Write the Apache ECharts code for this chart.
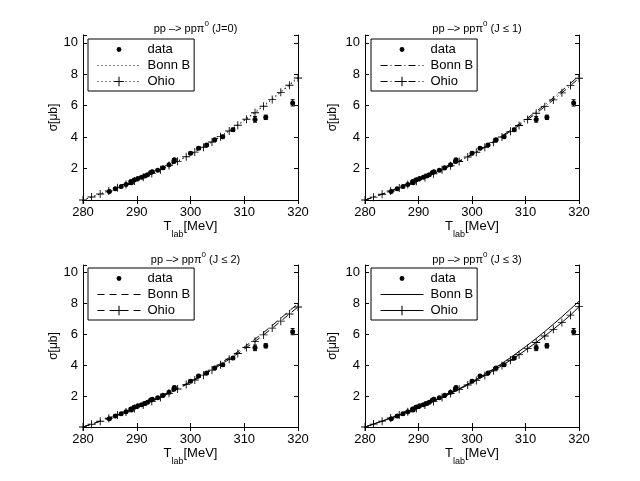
<!DOCTYPE html>
<html>
<head>
<meta charset="utf-8">
<script src="https://cdn.jsdelivr.net/npm/echarts@6/dist/echarts.min.js"></script>
<style>
  html, body { margin: 0; padding: 0; background: #fff; }
  #main { width: 640px; height: 481px; }
</style>
</head>
<body>
<div id="main"></div>
<script>
// measured cross sections (T_lab in MeV, sigma in mub, error)
const T_DATA   = [284.9, 286.0, 287.1, 288.0, 288.9, 289.0, 289.5, 290.2, 290.9, 291.5, 292.0, 292.6, 292.9, 293.9, 294.9, 296.0, 296.9, 297.0, 300.0, 301.5, 303.0, 304.5, 306.0, 307.9, 312.0, 314.0, 319.0];
const SIG_DATA = [0.54, 0.71, 0.86, 0.99, 1.17, 1.10, 1.28, 1.37, 1.45, 1.52, 1.60, 1.75, 1.80, 1.90, 2.05, 2.25, 2.45, 2.56, 2.97, 3.30, 3.50, 3.83, 4.03, 4.47, 5.13, 5.26, 6.18];
const ERR_DATA = [0.03, 0.03, 0.03, 0.03, 0.04, 0.04, 0.04, 0.04, 0.04, 0.04, 0.05, 0.05, 0.05, 0.05, 0.05, 0.06, 0.08, 0.08, 0.08, 0.08, 0.08, 0.09, 0.09, 0.10, 0.18, 0.14, 0.20];

// model curves
const T_CALC  = [280, 281.6, 283.2, 284.8, 286.4, 288, 289.6, 291.2, 292.8, 294.4, 296, 297.6, 299.2, 300.8, 302.4, 304, 305.6, 307.2, 308.8, 310.4, 312, 313.6, 315.2, 316.8, 318.4, 320];
const BONN_J0 = [0, 0.19, 0.38, 0.58, 0.78, 0.99, 1.21, 1.44, 1.68, 1.93, 2.19, 2.47, 2.76, 3.06, 3.38, 3.71, 4.05, 4.41, 4.79, 5.18, 5.59, 6.01, 6.45, 6.90, 7.36, 7.82];
const OHIO_J0 = [0, 0.19, 0.38, 0.58, 0.78, 0.99, 1.21, 1.44, 1.68, 1.93, 2.19, 2.46, 2.75, 3.05, 3.36, 3.69, 4.03, 4.39, 4.76, 5.14, 5.55, 5.97, 6.40, 6.85, 7.30, 7.76];
const BONN_J1 = [0, 0.19, 0.38, 0.58, 0.78, 0.99, 1.21, 1.44, 1.68, 1.94, 2.20, 2.48, 2.77, 3.08, 3.40, 3.73, 4.08, 4.45, 4.83, 5.22, 5.63, 6.06, 6.50, 6.96, 7.43, 7.90];
const OHIO_J1 = [0, 0.18, 0.37, 0.57, 0.77, 0.98, 1.20, 1.43, 1.67, 1.92, 2.18, 2.45, 2.74, 3.04, 3.35, 3.67, 4.01, 4.37, 4.74, 5.12, 5.52, 5.94, 6.37, 6.82, 7.28, 7.75];
const BONN_J2 = [0, 0.19, 0.38, 0.58, 0.78, 0.99, 1.21, 1.45, 1.69, 1.95, 2.22, 2.50, 2.80, 3.11, 3.43, 3.77, 4.12, 4.49, 4.88, 5.28, 5.70, 6.13, 6.58, 7.05, 7.53, 8.00];
const OHIO_J2 = [0, 0.18, 0.37, 0.57, 0.77, 0.98, 1.20, 1.43, 1.67, 1.92, 2.18, 2.46, 2.75, 3.05, 3.36, 3.69, 4.03, 4.39, 4.76, 5.15, 5.55, 5.97, 6.41, 6.86, 7.32, 7.78];
const BONN_J3 = [0, 0.19, 0.38, 0.58, 0.78, 0.99, 1.21, 1.44, 1.68, 1.93, 2.20, 2.48, 2.78, 3.09, 3.42, 3.76, 4.12, 4.50, 4.90, 5.31, 5.74, 6.19, 6.66, 7.14, 7.64, 8.15];
const OHIO_J3 = [0, 0.19, 0.38, 0.58, 0.78, 0.99, 1.20, 1.43, 1.66, 1.91, 2.17, 2.44, 2.72, 3.02, 3.33, 3.65, 3.98, 4.33, 4.69, 5.08, 5.48, 5.90, 6.33, 6.78, 7.25, 7.80];

const TITLE_J = ['J=0', 'J \u2264 1', 'J \u2264 2', 'J \u2264 3'];
const LEGEND_NAMES = ['data', 'Bonn B', 'Ohio'];
const BONN = [BONN_J0, BONN_J1, BONN_J2, BONN_J3];
const OHIO = [OHIO_J0, OHIO_J1, OHIO_J2, OHIO_J3];

const FONT = 'Liberation Sans, Arial, Helvetica, sans-serif';
const DOT = 'path://M0,0M10,10M2.5,5A2.5,2.5,0,1,1,7.5,5A2.5,2.5,0,1,1,2.5,5Z';
const PLUS = 'path://M0,4.45H10V5.55H0ZM4.45,0H5.55V10H4.45Z';

// layout of the four panels
const panels = [
  { left: 83,  top: 35,  width: 215, height: 165, lineType: [1, 3],       titleTop: 15,  legLeft: 88,  legTop: 39,  nameGap: 23 },
  { left: 365, top: 35,  width: 214, height: 165, lineType: [7, 3, 1, 3], titleTop: 15,  legLeft: 371, legTop: 39,  nameGap: 26 },
  { left: 83,  top: 265, width: 215, height: 162, lineType: [7, 5],       titleTop: 246, legLeft: 88,  legTop: 268, nameGap: 23 },
  { left: 365, top: 265, width: 214, height: 162, lineType: 'solid',      titleTop: 246, legLeft: 371, legTop: 268, nameGap: 26 }
];

function zip(xs, ys) { return xs.map((x, i) => [x, ys[i]]); }

function renderErr(params, api) {
  const x = api.value(0), y = api.value(1), e = api.value(2);
  const hi = api.coord([x, y + e]);
  const lo = api.coord([x, y - e]);
  const w = 2;
  const st = { stroke: '#000', lineWidth: 1 };
  return {
    type: 'group',
    children: [
      { type: 'line', shape: { x1: hi[0], y1: hi[1], x2: lo[0], y2: lo[1] }, style: st },
      { type: 'line', shape: { x1: hi[0] - w, y1: hi[1], x2: hi[0] + w, y2: hi[1] }, style: st },
      { type: 'line', shape: { x1: lo[0] - w, y1: lo[1], x2: lo[0] + w, y2: lo[1] }, style: st }
    ]
  };
}

const axisLine = { show: true, lineStyle: { color: '#000', width: 1 } };
const axisTick = { show: true, inside: true, length: 4, lineStyle: { color: '#000', width: 1 } };

const option = {
  animation: false,
  backgroundColor: '#fff',
  textStyle: { fontFamily: FONT },
  title: [], grid: [], xAxis: [], yAxis: [], legend: [], series: []
};

panels.forEach((p, i) => {
  option.grid.push({ left: p.left, top: p.top, width: p.width, height: p.height, show: false });

  option.title.push({
    text: '{a|pp \u2013> pp\u03c0}{s|0}{a| (' + TITLE_J[i] + ')}',
    left: p.left + p.width / 2,
    top: p.titleTop,
    textAlign: 'center',
    textStyle: {
      fontWeight: 'normal',
      rich: {
        a: { fontSize: 11, fontWeight: 'normal', color: '#000', fontFamily: FONT, lineHeight: 14, verticalAlign: 'bottom' },
        s: { fontSize: 8, fontWeight: 'normal', color: '#000', fontFamily: FONT, lineHeight: 14, verticalAlign: 'top' }
      }
    }
  });

  option.xAxis.push({
    type: 'value', gridIndex: i, position: 'bottom',
    min: 280, max: 320, interval: 10,
    axisLine, axisTick, splitLine: { show: false },
    axisLabel: { color: '#000', fontSize: 13, margin: 6, fontFamily: FONT },
    name: '{t|T}{s|lab}{t|[MeV]}',
    nameLocation: 'middle', nameGap: 19,
    nameTextStyle: {
      rich: {
        t: { fontSize: 13, color: '#000', fontFamily: FONT, lineHeight: 19, verticalAlign: 'top' },
        s: { fontSize: 9, color: '#000', fontFamily: FONT, lineHeight: 19, verticalAlign: 'bottom' }
      }
    }
  });
  option.xAxis.push({
    type: 'value', gridIndex: i, position: 'top',
    min: 280, max: 320, interval: 10,
    axisLine, axisTick, splitLine: { show: false }, axisLabel: { show: false }
  });

  option.yAxis.push({
    type: 'value', gridIndex: i, position: 'left',
    min: 0, max: 10.5, interval: 2,
    axisLine, axisTick, splitLine: { show: false },
    axisLabel: {
      color: '#000', fontSize: 13, margin: 5, fontFamily: FONT,
      formatter: v => (v > 0 && v % 2 === 0) ? String(v) : ''
    },
    name: '\u03c3[\u03bcb]', nameLocation: 'middle', nameRotate: 90, nameGap: p.nameGap,
    nameTextStyle: { fontSize: 12, color: '#000', fontFamily: FONT }
  });
  option.yAxis.push({
    type: 'value', gridIndex: i, position: 'right',
    min: 0, max: 10.5, interval: 2,
    axisLine, axisTick, splitLine: { show: false }, axisLabel: { show: false }
  });

  const xi = 2 * i, yi = 2 * i;
  const names = LEGEND_NAMES.map(n => n + '#' + i);

  option.series.push({
    type: 'custom', name: 'err#' + i, xAxisIndex: xi, yAxisIndex: yi,
    data: T_DATA.map((t, k) => [t, SIG_DATA[k], ERR_DATA[k]]),
    encode: { x: 0, y: 1 },
    renderItem: renderErr, silent: true, z: 4
  });
  option.series.push({
    type: 'line', name: names[0], xAxisIndex: xi, yAxisIndex: yi,
    data: zip(T_DATA, SIG_DATA),
    symbol: DOT, symbolSize: 10, showAllSymbol: true,
    lineStyle: { width: 0, opacity: 0 },
    itemStyle: { color: '#000' }, silent: true, z: 5
  });
  option.series.push({
    type: 'line', name: names[1], xAxisIndex: xi, yAxisIndex: yi,
    data: zip(T_CALC, BONN[i]),
    symbol: 'none',
    lineStyle: { color: '#000', width: 1, type: p.lineType },
    itemStyle: { color: '#000' }, silent: true, z: 3
  });
  option.series.push({
    type: 'line', name: names[2], xAxisIndex: xi, yAxisIndex: yi,
    data: zip(T_CALC, OHIO[i]),
    symbol: PLUS, symbolSize: 8, showAllSymbol: true,
    lineStyle: { color: '#000', width: 1, type: p.lineType },
    itemStyle: { color: '#000' }, silent: true, z: 3
  });

  option.legend.push({
    orient: 'vertical', left: p.legLeft, top: p.legTop,
    data: [
      { name: names[0] },
      { name: names[1], itemStyle: { opacity: 0 } },
      { name: names[2] }
    ],
    formatter: n => n.split('#')[0],
    itemWidth: 43, itemHeight: 12, itemGap: 3,
    padding: [4, 4, 3, 9],
    borderColor: '#000', borderWidth: 1, backgroundColor: '#fff',
    selectedMode: false,
    lineStyle: { width: 1 },
    textStyle: { fontSize: 13, color: '#000', fontFamily: FONT, padding: [0, 0, 0, 2] }
  });
});

const chart = echarts.init(document.getElementById('main'));
chart.setOption(option);
</script>
</body>
</html>
